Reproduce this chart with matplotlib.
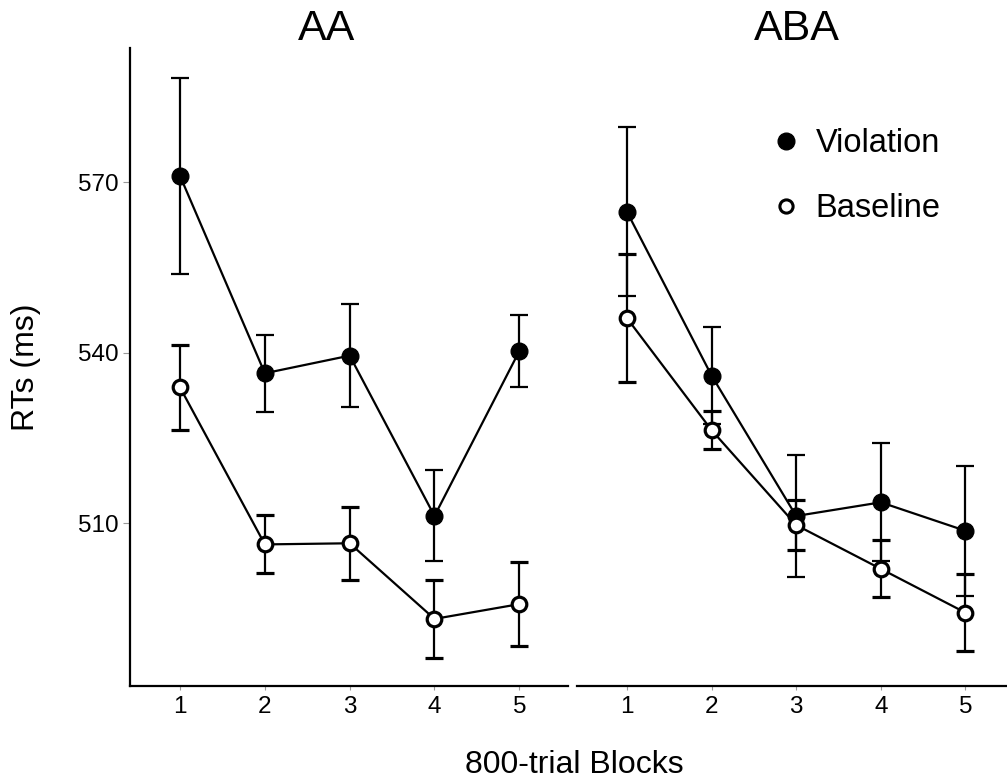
import matplotlib
matplotlib.use('Agg')
import matplotlib.pyplot as plt
from matplotlib.lines import Line2D

plt.rcParams['font.family'] = ['Liberation Sans', 'DejaVu Sans']

# DATA

blocks = [1, 2, 3, 4, 5]

aa_violation = [571.1, 536.4, 539.5, 511.3, 540.3]
aa_violation_err = [17.3, 6.8, 9.0, 8.0, 6.3]
aa_baseline = [533.9, 506.3, 506.5, 493.2, 495.8]
aa_baseline_err = [7.5, 5.1, 6.4, 6.9, 7.4]

aba_violation = [564.8, 536.0, 511.3, 513.7, 508.7]
aba_violation_err = [14.9, 8.6, 10.8, 10.4, 11.4]
aba_baseline = [546.1, 526.4, 509.7, 502.0, 494.3]
aba_baseline_err = [11.3, 3.4, 4.4, 5.0, 6.8]

panel_titles = ['AA', 'ABA']
y_ticks = [510, 540, 570]

# FIGURE

W, H = 1007, 780
fig = plt.figure(figsize=(W / 100, H / 100), dpi=100)

def box(left, right, top, bottom):
    return [left / W, 1 - bottom / H, (right - left) / W, (bottom - top) / H]

ax1 = fig.add_axes(box(130, 568, 48, 686))
ax2 = fig.add_axes(box(577, 1014, 48, 686))

panels = [
    (ax1, aa_violation, aa_violation_err, aa_baseline, aa_baseline_err),
    (ax2, aba_violation, aba_violation_err, aba_baseline, aba_baseline_err),
]

for ax, v, v_err, b, b_err in panels:
    ax.errorbar(blocks, v, yerr=v_err, color='black', lw=1.6, capsize=6.5,
                capthick=1.6, elinewidth=1.6, marker='o', ms=12,
                mfc='black', mec='black', zorder=3)
    ax.errorbar(blocks, b, yerr=b_err, color='black', lw=1.6, capsize=6.5,
                capthick=1.6, elinewidth=1.6, marker='o', ms=10.5,
                mfc='white', mec='black', mew=2.3, zorder=4)
    ax.set_xlim(0.41, 5.574)
    ax.set_ylim(481.4, 593.6)
    ax.set_xticks(blocks)
    ax.set_xticklabels([str(x) for x in blocks], fontsize=17.5)
    for s in ['top', 'right']:
        ax.spines[s].set_visible(False)
    ax.spines['bottom'].set_linewidth(1.6)
    ax.spines['left'].set_linewidth(1.6)
    ax.tick_params(axis='x', length=3, width=0.8, color='#999999', pad=4)
    ax.tick_params(axis='y', length=5, width=0.8, color='#999999', pad=3,
                   labelsize=17.5)

ax1.set_yticks(y_ticks)
ax2.set_yticks([])
ax2.spines['left'].set_visible(False)

# TITLES AND LABELS

fig.text(327 / W, 1 - 29 / H, panel_titles[0], fontsize=31, ha='center', va='center')
fig.text(797 / W, 1 - 29 / H, panel_titles[1], fontsize=31, ha='center', va='center')
fig.text(26 / W, 1 - 367 / H, 'RTs (ms)', fontsize=23, rotation=90,
         ha='center', va='center')
fig.text(574 / W, 1 - 765 / H, '800-trial Blocks', fontsize=23,
         ha='center', va='center')

# LEGEND

handles = [
    Line2D([], [], ls='none', marker='o', ms=12, mfc='black', mec='black'),
    Line2D([], [], ls='none', marker='o', ms=9.5, mfc='white', mec='black', mew=2.2),
]
ax2.legend(handles, ['Violation', 'Baseline'], loc='upper left',
           bbox_to_anchor=(770 / W, 1 - 128 / H), bbox_transform=fig.transFigure,
           frameon=False, fontsize=23.5, handlelength=1.0, handletextpad=0.4,
           labelspacing=1.05, borderpad=0, borderaxespad=0)

fig.savefig('out.png', dpi=100)
